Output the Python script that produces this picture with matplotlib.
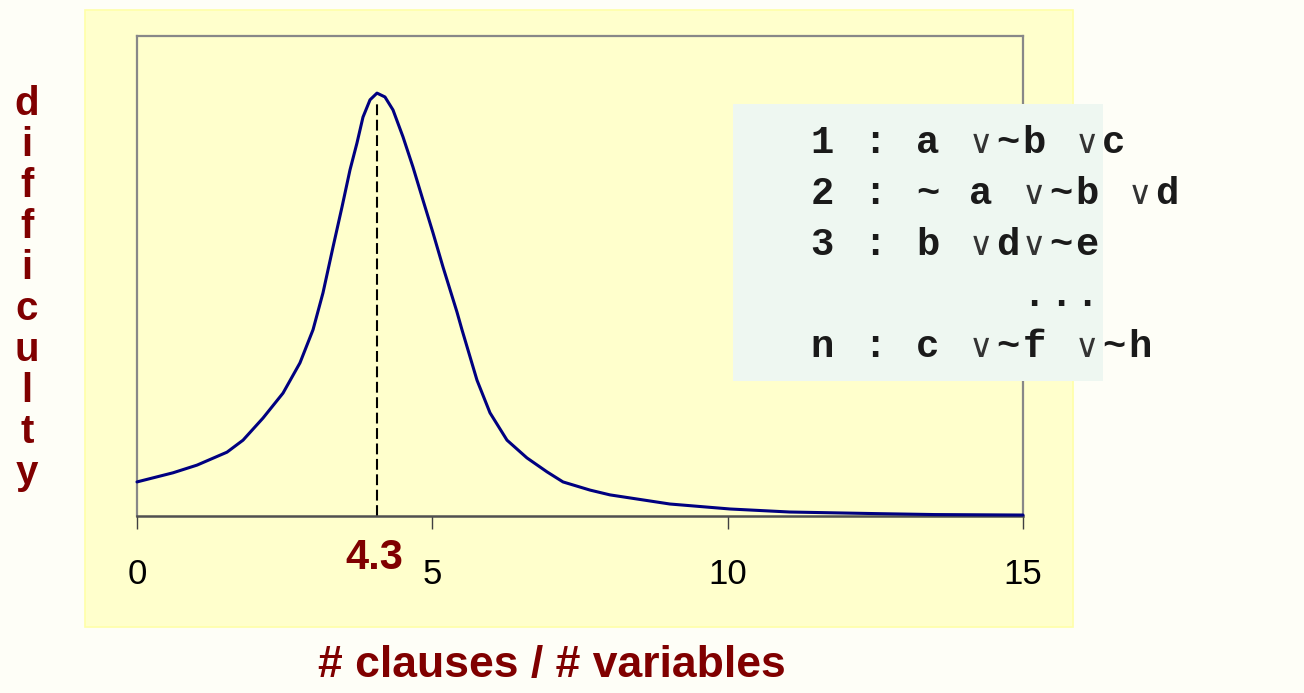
import matplotlib
matplotlib.use("Agg")
import matplotlib.pyplot as plt
from matplotlib.patches import Rectangle

# ---------------- data ----------------
ratio = [0.000, 0.609, 1.016, 1.524, 1.795, 2.133, 2.472, 2.759, 2.980, 3.149,
         3.318, 3.471, 3.606, 3.724, 3.826, 3.945, 4.063, 4.198, 4.334, 4.503,
         4.672, 4.842, 5.011, 5.180, 5.417, 5.502, 5.756, 5.976, 6.264, 6.602,
         6.941, 7.212, 7.669, 8.007, 9.02, 10.04, 11.05, 12.5, 13.5, 15.0]
difficulty = [0.071, 0.090, 0.106, 0.133, 0.158, 0.204, 0.256, 0.319, 0.388, 0.465,
              0.560, 0.644, 0.721, 0.777, 0.831, 0.867, 0.881, 0.873, 0.846, 0.790,
              0.727, 0.658, 0.590, 0.519, 0.425, 0.388, 0.283, 0.215, 0.158, 0.121,
              0.092, 0.071, 0.054, 0.044, 0.025, 0.0146, 0.0083, 0.005, 0.003, 0.002]
x_ticks = [0, 5, 10, 15]
x_tick_labels = ["0", "5", "10", "15"]
critical_label = "4.3"
ylabel_text = "difficulty"
xlabel_text = "# clauses / # variables"
clauses = ["1 : a ∨~b ∨c",
           "2 : ~ a ∨~b ∨d",
           "3 : b ∨d∨~e",
           "        ...",
           "n : c ∨~f ∨~h"]

W, H = 1304, 693
DARKRED = "#800000"


def fx(px):
    return px / W


def fy(py):
    return 1 - py / H


fig = plt.figure(figsize=(W / 100, H / 100), dpi=100)
fig.patch.set_facecolor("#FEFEF7")

# yellow panel
fig.patches.append(Rectangle((fx(85), fy(627)), (1073 - 85) / W, (627 - 10) / H,
                             transform=fig.transFigure, facecolor="#FFFFCC",
                             edgecolor="#FFFFA8", linewidth=1.2, zorder=-10))

ax = fig.add_axes([fx(137), fy(516), (1023 - 137) / W, (516 - 36) / H])
ax.set_zorder(1)
ax.set_facecolor("#FFFFCC")
ax.set_xlim(0, 15)
ax.set_ylim(0, 1)

ax.plot(ratio, difficulty, color="#000080", lw=2.2, solid_capstyle="round",
        solid_joinstyle="round", zorder=3, clip_on=False)

# dashed line at the peak
i_peak = difficulty.index(max(difficulty))
xp, yp = ratio[i_peak], difficulty[i_peak]
ax.plot([xp, xp], [0, yp - 0.02], color="black", lw=1.5, dashes=[5.2, 2.2], zorder=2)
ax.annotate(critical_label, xy=(xp, 0), xycoords="data", xytext=(-3, -53),
            textcoords="offset pixels", ha="center", va="baseline",
            fontsize=30, fontweight="bold", color=DARKRED,
            family="Liberation Sans", annotation_clip=False)

for side in ["left", "top", "right"]:
    ax.spines[side].set_color("#888888")
    ax.spines[side].set_linewidth(1.6)
ax.spines["bottom"].set_color("#505050")
ax.spines["bottom"].set_linewidth(1.8)

ax.set_yticks([])
ax.set_xticks(x_ticks)
ax.set_xticklabels(x_tick_labels, fontsize=25, family="Liberation Sans")
ax.tick_params(axis="x", direction="out", length=9, width=1.0, color="#404040",
               pad=21, labelcolor="black")

# vertical stacked y label
for k, ch in enumerate(ylabel_text):
    fig.text(fx(27), fy(115 + 41 * k), ch, ha="center", va="baseline",
             fontsize=29, fontweight="bold", color=DARKRED, family="Liberation Sans")

# x label
fig.text(fx(552), fy(677), xlabel_text, ha="center", va="baseline",
         fontsize=32, fontweight="bold", color=DARKRED, family="Liberation Sans")

# clause box
fig.patches.append(Rectangle((fx(733), fy(381)), (1103 - 733) / W, (381 - 104) / H,
                             transform=fig.transFigure, facecolor="#EEF7F1",
                             edgecolor="none", zorder=5))
col_w = 26.5
for i, line in enumerate(clauses):
    base = 153 + 51 * i
    for c, ch in enumerate(line):
        if ch == " ":
            continue
        if ch == "∨":
            fig.text(fx(822 + c * col_w), fy(base), ch, ha="center", va="baseline",
                     fontsize=24, color="#333333", family="DejaVu Sans", zorder=6)
        else:
            fig.text(fx(822 + c * col_w), fy(base), ch, ha="center", va="baseline",
                     fontsize=28, fontweight="bold", color="#1a1a1a",
                     family=["Liberation Mono", "DejaVu Sans Mono"], zorder=6)

fig.savefig("out.png", dpi=100, facecolor=fig.get_facecolor())
